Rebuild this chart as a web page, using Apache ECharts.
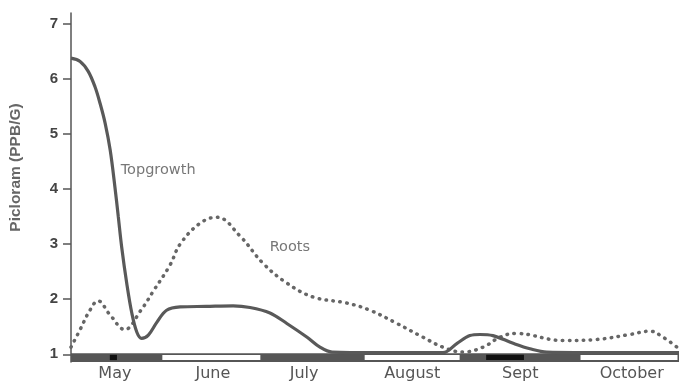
<!DOCTYPE html>
<html>
<head>
<meta charset="utf-8">
<script src="https://cdn.jsdelivr.net/npm/echarts@6/dist/echarts.min.js"></script>
<style>html,body{margin:0;padding:0;background:#fff}#c{width:679px;height:384px}</style>
</head>
<body>
<div id="c"></div>
<script>
// x in days from the start of the record (left axis)
const monthNames = ['May', 'June', 'July', 'August', 'Sept', 'October'];
const monthLabelDays = [13, 42, 69, 101, 133, 166];
const yTicks = [1, 2, 3, 4, 5, 6, 7];

const topgrowthDays   = [0, 2.7, 5.1, 7.1, 8.6, 10.1, 11.6, 13.0, 14.0, 15.0, 16.5, 18.0, 19.5, 20.9, 22.9, 25.4, 28.3, 32.3, 40, 48, 53, 58.9, 63.9, 69.9, 73.7, 77.3, 90, 110.1, 114.3, 118.1, 121.1, 124.9, 130.9, 135.9, 140.9, 160, 180];
const topgrowthValues = [6.38, 6.32, 6.14, 5.86, 5.56, 5.2, 4.71, 4.04, 3.5, 2.95, 2.29, 1.75, 1.4, 1.29, 1.35, 1.58, 1.8, 1.86, 1.87, 1.88, 1.85, 1.75, 1.56, 1.31, 1.13, 1.04, 1.03, 1.03, 1.2, 1.34, 1.36, 1.34, 1.2, 1.1, 1.04, 1.03, 1.03];

const rootsDays   = [0, 2.7, 5.6, 8.0, 11.5, 15.9, 20.7, 24.5, 29.3, 32.3, 38.2, 43.2, 50.0, 56.9, 64.0, 71.7, 81.7, 88.5, 96.5, 104.2, 110.1, 116.1, 122.0, 127.0, 131.5, 145.7, 155.7, 165.5, 171.4, 175.3, 180];
const rootsValues = [1.13, 1.45, 1.8, 1.97, 1.72, 1.45, 1.8, 2.16, 2.62, 3.0, 3.38, 3.49, 3.15, 2.65, 2.29, 2.04, 1.93, 1.8, 1.56, 1.31, 1.13, 1.04, 1.13, 1.31, 1.38, 1.25, 1.27, 1.36, 1.42, 1.31, 1.1];

// month strip along the bottom
const stripStart = [0, 26.6, 86.5, 150.4, 122.9, 11.5];
const stripEnd   = [180, 56.5, 115.5, 180, 134.1, 13.6];
const stripKind  = ['base', 'white', 'white', 'white', 'black', 'black'];

const labels = ['Topgrowth', 'Roots'];
const labelDays = [25.8, 64.8];
const labelValues = [4.35, 2.95];

const zip = (a, b) => a.map((v, i) => [v, b[i]]);

const chart = echarts.init(document.getElementById('c'), null, {renderer: 'canvas'});

const stripStyle = {
  base:  {top: 1.02, bottom: 0.86, fill: '#565656', inset: 0},
  white: {top: 0.985, bottom: 0.895, fill: '#ffffff', inset: 1.5},
  black: {top: 0.99, bottom: 0.895, fill: '#111111', inset: 0}
};

chart.setOption({
  animation: false,
  grid: {left: 71, right: 0, top: 13, bottom: 22},
  xAxis: {
    type: 'value', min: 0, max: 180,
    axisLine: {show: false}, axisTick: {show: false}, splitLine: {show: false},
    axisLabel: {
      customValues: monthLabelDays,
      formatter: v => monthNames[monthLabelDays.indexOf(v)],
      fontFamily: 'DejaVu Sans, sans-serif', fontSize: 16,
      color: '#555', margin: 4
    }
  },
  yAxis: {
    type: 'value', min: 0.86, max: 7.2,
    name: 'Picloram (PPB/G)', nameLocation: 'middle', nameGap: 47,
    nameTextStyle: {fontFamily: 'Liberation Sans, Arial, sans-serif', fontSize: 15.5, color: '#666', fontWeight: 'bold', padding: [0, 0, 0, 40]},
    axisLine: {show: true, lineStyle: {color: '#555', width: 1.5}},
    axisTick: {show: true, customValues: yTicks, length: 8, lineStyle: {color: '#555', width: 1.5}},
    splitLine: {show: false},
    axisLabel: {customValues: yTicks, fontFamily: 'Liberation Sans, Arial, sans-serif', fontSize: 15, color: '#444', fontWeight: 'bold', margin: 13}
  },
  series: [
    {
      type: 'custom', z: 1, silent: true,
      data: stripStart.map((s, i) => [s, stripEnd[i], i]),
      renderItem: (params, api) => {
        const st = stripStyle[stripKind[api.value(2)]];
        const p1 = api.coord([api.value(0), st.top]);
        const p2 = api.coord([api.value(1), st.bottom]);
        return {
          type: 'rect',
          shape: {x: p1[0] + st.inset, y: p1[1], width: p2[0] - p1[0] - 2 * st.inset, height: p2[1] - p1[1]},
          style: {fill: st.fill}
        };
      }
    },
    {
      name: 'Topgrowth', type: 'line', z: 3, smooth: 0.35, showSymbol: false,
      data: zip(topgrowthDays, topgrowthValues),
      lineStyle: {color: '#595959', width: 3.2}
    },
    {
      name: 'Roots', type: 'line', z: 2, smooth: 0.4, showSymbol: false,
      data: zip(rootsDays, rootsValues),
      lineStyle: {color: '#666', width: 3.5, type: [0.5, 6.5], cap: 'round'}
    },
    {
      type: 'scatter', z: 4, silent: true, symbolSize: 0,
      data: labels.map((t, i) => ({value: [labelDays[i], labelValues[i]], name: t})),
      label: {
        show: true, position: 'inside', formatter: p => p.name,
        fontFamily: 'DejaVu Sans, sans-serif', fontSize: 14.5, color: '#555'
      }
    }
  ]
});
</script>
</body>
</html>
